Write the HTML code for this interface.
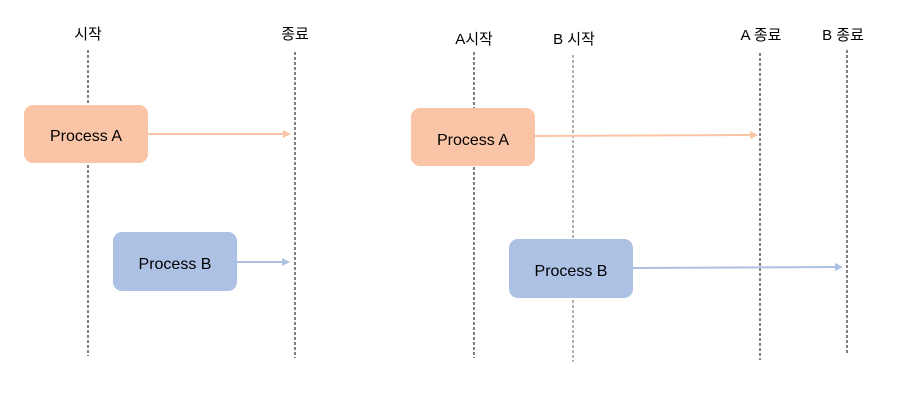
<!DOCTYPE html>
<html><head><meta charset="utf-8"><style>html,body{margin:0;padding:0;background:#fff}svg{display:block}</style></head>
<body>
<svg width="904" height="404" xmlns="http://www.w3.org/2000/svg" font-family="'Liberation Sans','Noto Sans CJK KR',sans-serif">
<g stroke="#000" stroke-width="1" stroke-dasharray="3,2">
<line x1="88" y1="50" x2="88" y2="356"/>
<line x1="295" y1="52" x2="295" y2="358"/>
<line x1="474" y1="52" x2="474" y2="358"/>
<line x1="573" y1="55" x2="573" y2="362" stroke="#666"/>
<line x1="760" y1="53" x2="760" y2="360"/>
<line x1="847" y1="50" x2="847" y2="355"/>
</g>
<g font-size="15" fill="#000" text-anchor="middle">
<text x="88" y="39">시작</text>
<text x="295" y="39">종료</text>
<text x="474" y="44">A시작</text>
<text x="574" y="44">B 시작</text>
<text x="761" y="40">A 종료</text>
<text x="843" y="40">B 종료</text>
</g>
<rect x="24" y="105" width="124" height="58" rx="9" fill="#F9C5A6"/>
<rect x="113" y="232" width="124" height="59" rx="9" fill="#ACC1E4"/>
<rect x="411" y="108" width="124" height="58" rx="9" fill="#F9C5A6"/>
<rect x="509" y="239" width="124" height="59" rx="9" fill="#ACC1E4"/>
<g font-size="16" fill="#000" text-anchor="middle">
<text x="86" y="141">Process A</text>
<text x="175" y="269">Process B</text>
<text x="473" y="145">Process A</text>
<text x="571" y="276">Process B</text>
</g>
<g stroke-width="2">
<line x1="148" y1="134" x2="284" y2="134" stroke="#F9C5A6"/>
<line x1="237" y1="262" x2="283" y2="262" stroke="#ACC1E4"/>
<line x1="535" y1="136" x2="751" y2="135" stroke="#F9C5A6"/>
<line x1="633" y1="268" x2="836" y2="267" stroke="#ACC1E4"/>
</g>
<polygon points="283,130 291,134 283,138" fill="#F9C5A6"/>
<polygon points="282,258 290,262 282,266" fill="#ACC1E4"/>
<polygon points="750,131 758,135 750,139" fill="#F9C5A6"/>
<polygon points="835,263 843,267 835,271" fill="#ACC1E4"/>
</svg>
</body></html>
